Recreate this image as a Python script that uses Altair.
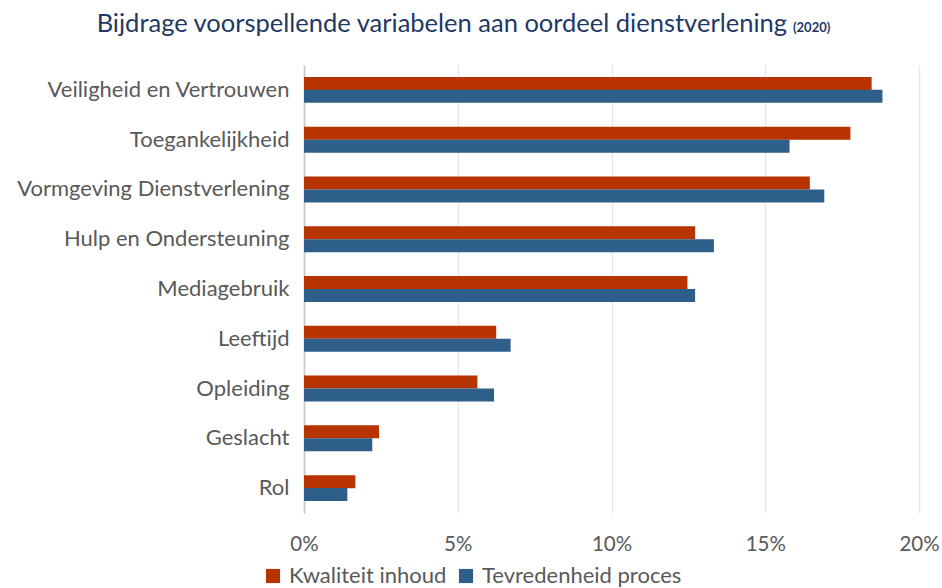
import altair as alt
import pandas as pd

categories = ["Veiligheid en Vertrouwen", "Toegankelijkheid", "Vormgeving Dienstverlening",
              "Hulp en Ondersteuning", "Mediagebruik", "Leeftijd", "Opleiding", "Geslacht", "Rol"]
series_names = ["Kwaliteit inhoud", "Tevredenheid proces"]
kwaliteit = [18.46, 17.77, 16.45, 12.72, 12.47, 6.25, 5.64, 2.44, 1.67]
tevredenheid = [18.81, 15.79, 16.92, 13.33, 12.72, 6.72, 6.18, 2.22, 1.41]
x_ticks = [0, 5, 10, 15, 20]

rows = []
for c, a, b in zip(categories, kwaliteit, tevredenheid):
    rows.append({"cat": c, "serie": series_names[0], "val": a})
    rows.append({"cat": c, "serie": series_names[1], "val": b})
df = pd.DataFrame(rows)

FONT = "Lato"
GRAY = "#595959"
NAVY = "#1F3864"

bars = alt.Chart(df).mark_bar(size=13).encode(
    y=alt.Y("cat:N", sort=categories, title=None,
            scale=alt.Scale(paddingInner=0.48, paddingOuter=0.24),
            axis=alt.Axis(labelFontSize=22, labelColor=GRAY, labelFont=FONT, ticks=False,
                          labelPadding=15, domainColor="#c8c8c8", domainWidth=1.5, labelLimit=400)),
    yOffset=alt.YOffset("serie:N", sort=series_names),
    x=alt.X("val:Q", title=None, scale=alt.Scale(domain=[0, 20], nice=False),
            axis=alt.Axis(values=x_ticks, labelExpr="datum.value + '%'", labelFontSize=20.5,
                          labelColor=GRAY, labelFont=FONT, ticks=False, domain=False,
                          labelFlush=False,
                          gridColor="#e8e8e8", gridWidth=1.5, labelPadding=21)),
    color=alt.Color("serie:N", sort=series_names,
                    scale=alt.Scale(domain=series_names, range=["#B73300", "#2E5E8A"]),
                    legend=alt.Legend(title=None, orient="none", direction="horizontal",
                                      legendX=-42, legendY=500, symbolType="square",
                                      symbolSize=200, symbolStrokeWidth=0, labelFontSize=22,
                                      labelColor=GRAY, labelFont=FONT, columnPadding=8,
                                      labelOffset=5, labelLimit=400)),
)

title_df = pd.DataFrame({"t": ["Bijdrage voorspellende variabelen aan oordeel dienstverlening"]})
title_main = alt.Chart(title_df).mark_text(align="right", baseline="alphabetic", fontSize=25.5,
                                          font=FONT, color=NAVY).encode(
    text="t:N", x=alt.value(483), y=alt.value(-33))
year_df = pd.DataFrame({"t": ["(2020)"]})
title_year = alt.Chart(year_df).mark_text(align="left", baseline="alphabetic", fontSize=13,
                                          font=FONT, color=NAVY, fontWeight="bold").encode(
    text="t:N", x=alt.value(489), y=alt.value(-33))

chart = alt.layer(bars, title_main, title_year).properties(
    width=615, height=448,
    autosize=alt.AutoSizeParams(type="none"),
    padding={"left": 304, "top": 65, "right": 23, "bottom": 75},
).configure_view(stroke=None)

chart.save("out.html", embed_options={"renderer": "svg", "actions": False})
